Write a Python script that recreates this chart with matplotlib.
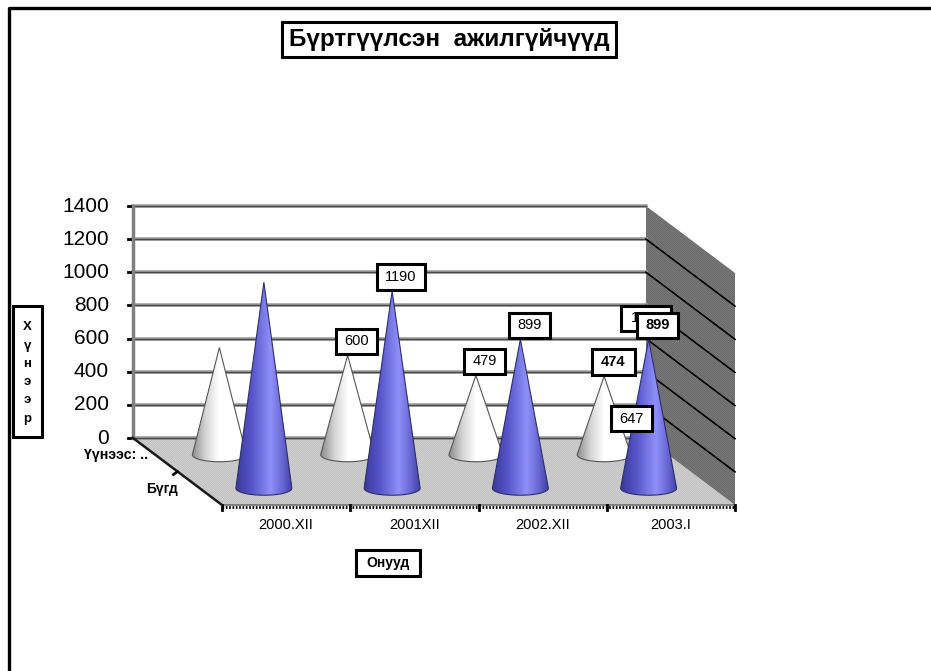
#!/usr/bin/env python3
"""Registered unemployed, 3D cone chart drawn on a flat pixel-sized axes."""

from __future__ import annotations

import matplotlib

matplotlib.use("Agg")
import matplotlib.pyplot as plt
import numpy as np
from matplotlib.colors import LinearSegmentedColormap
from matplotlib.patches import Polygon, Rectangle

plt.rcParams["font.family"] = ["Liberation Sans", "DejaVu Sans"]

YEARS = ["2000.XII", "2001XII", "2002.XII", "2003.I"]
SERIES = ["Үүнээс: ..", "Бүгд"]
FROM_THEM = [647, 600, 479, 474]
TOTAL = [1243, 1190, 899, 899]
VALUE_TICKS = [0, 200, 400, 600, 800, 1000, 1200, 1400]

TITLE = "Бүртгүүлсэн  ажилгүйчүүд"
Y_TITLE = "Х\nү\nн\nэ\nэ\nр"
X_TITLE = "Онууд"

# projection of the 3D box onto the picture, in pixels
BACK_LEFT = 133
BACK_RIGHT = 648
FRONT_LEFT = 222
FRONT_RIGHT = 735
BACK_Y = 438
FRONT_Y = 505
PX_PER_UNIT = 232 / 1400
MAX_VALUE = 1400

BLUE = LinearSegmentedColormap.from_list(
    "blue_cone",
    [(0.0, "#38389a"), (0.3, "#5858cc"), (0.62, "#9090fa"), (0.85, "#6464d0"), (1.0, "#4040a4")],
)
WHITE = LinearSegmentedColormap.from_list(
    "white_cone",
    [(0.0, "#8c8c8c"), (0.25, "#d4d4d4"), (0.5, "#ffffff"), (1.0, "#ffffff")],
)


def project(cat: float, depth: float, value: float = 0.0) -> tuple[float, float]:
    """cat is in category units, depth 0 is the front edge and 1 the back wall."""
    step = (FRONT_RIGHT - FRONT_LEFT) / len(YEARS)
    x = FRONT_LEFT + step * cat - (FRONT_LEFT - BACK_LEFT) * depth
    y = FRONT_Y - (FRONT_Y - BACK_Y) * depth - value * PX_PER_UNIT
    return x, y


def dither(ax, corners, light, dark):
    xs = [c[0] for c in corners]
    ys = [c[1] for c in corners]
    x0, x1, y0, y1 = int(min(xs)), int(max(xs)) + 1, int(min(ys)), int(max(ys)) + 1
    yy, xx = np.mgrid[0:(y1 - y0), 0:(x1 - x0)]
    cmap = LinearSegmentedColormap.from_list("dither", [light, dark])
    im = ax.imshow(
        (xx + yy) % 2,
        cmap=cmap,
        extent=(x0, x1, y1, y0),
        aspect="auto",
        interpolation="bilinear",
        zorder=1,
    )
    im.set_clip_path(Polygon(corners, transform=ax.transData))


def draw_cone(ax, cat, depth, value, cmap, edge, rx=28, ry=7, zorder=3):
    cx, cy = project(cat, depth)
    tip_x, tip_y = project(cat, depth, value)
    theta = np.linspace(0, np.pi, 40)
    outline = [(tip_x, tip_y)]
    outline += list(zip(cx + rx * np.cos(theta), cy + ry * np.sin(theta)))
    gradient = np.linspace(0, 1, 256).reshape(1, -1)
    im = ax.imshow(
        gradient,
        cmap=cmap,
        extent=(cx - rx, cx + rx, cy + ry, tip_y),
        aspect="auto",
        zorder=zorder,
    )
    im.set_clip_path(Polygon(outline, transform=ax.transData))
    ax.add_patch(Polygon(outline, closed=True, fill=False, edgecolor=edge, linewidth=0.8, zorder=zorder))


def boxed(ax, x, y, text, width, height, size, bold=False, zorder=6):
    ax.add_patch(
        Rectangle(
            (x - width / 2, y - height / 2),
            width,
            height,
            facecolor="white",
            edgecolor="black",
            linewidth=2.2,
            zorder=zorder,
        )
    )
    ax.text(
        x,
        y,
        text,
        ha="center",
        va="center",
        fontsize=size,
        fontweight="bold" if bold else "normal",
        color="black",
        zorder=zorder,
    )


def main() -> None:
    fig = plt.figure(figsize=(9.31, 6.71), dpi=100)
    ax = fig.add_axes([0, 0, 1, 1])

    # page frame
    ax.plot([9, 9, 931], [671, 8, 8], color="black", linewidth=2.4, zorder=1)

    # walls and floor
    dither(
        ax,
        [project(0, 1), project(len(YEARS), 1), project(len(YEARS), 0), project(0, 0)],
        "#c4c4c4",
        "#cccccc",
    )
    dither(
        ax,
        [
            project(len(YEARS), 1, MAX_VALUE),
            project(len(YEARS), 0, MAX_VALUE),
            project(len(YEARS), 0),
            project(len(YEARS), 1),
        ],
        "#6c6c6c",
        "#767676",
    )
    for value in VALUE_TICKS:
        left = project(0, 1, value)
        right = project(len(YEARS), 1, value)
        ax.plot([left[0], right[0]], [left[1], right[1]], color="#a0a0a0", linewidth=2.6, zorder=2)
        ax.plot([left[0], right[0]], [left[1], right[1]], color="#484848", linewidth=1.0, zorder=2)
        ax.plot([left[0] - 5, left[0]], [left[1], left[1]], color="black", linewidth=2, zorder=2)
        ax.text(left[0] - 24, left[1], str(value), ha="right", va="center", fontsize=15)
        if value > 0 and value < MAX_VALUE:
            front = project(len(YEARS), 0, value)
            ax.plot([right[0], front[0]], [right[1], front[1]], color="black", linewidth=1.2, zorder=2)
    top = project(0, 1, MAX_VALUE)
    ax.plot([top[0], top[0]], [top[1], BACK_Y], color="#808080", linewidth=2.5, zorder=2)

    # front and depth axes
    ax.plot([FRONT_LEFT, FRONT_RIGHT], [FRONT_Y, FRONT_Y], color="#707070", linewidth=1.2, zorder=2)
    ax.plot(
        [FRONT_LEFT, FRONT_RIGHT],
        [FRONT_Y + 2, FRONT_Y + 2],
        color="black",
        linewidth=2,
        linestyle=(0, (0.6, 0.6)),
        zorder=2,
    )
    for cat in range(len(YEARS) + 1):
        x, y = project(cat, 0)
        ax.plot([x, x], [y, y + 5], color="black", linewidth=2, zorder=2)
    depth_start = project(0, 1)
    depth_end = project(0, 0)
    ax.plot(
        [depth_start[0], depth_end[0]],
        [depth_start[1], depth_end[1]],
        color="#1a1a1a",
        linewidth=1.8,
        zorder=2,
    )
    mid = project(0, 0.5)
    ax.plot([mid[0] - 4, mid[0]], [mid[1] + 3, mid[1]], color="black", linewidth=2, zorder=2)

    # cones, back row first
    for cat, value in enumerate(FROM_THEM):
        draw_cone(ax, cat + 0.5, 0.75, value, WHITE, "#565656", rx=27, zorder=3)
    for cat, value in enumerate(TOTAL):
        draw_cone(ax, cat + 0.5, 0.25, value, BLUE, "#2e2e6a", zorder=4)

    # value labels sit up and to the right of the tips, the two hand moved ones differ
    label_shift = (9, -14)
    white_shift = [(412, 71), label_shift, label_shift, label_shift]
    blue_shift = [(382, 36), label_shift, label_shift, label_shift]
    for cat, value in enumerate(FROM_THEM):
        x, y = project(cat + 0.5, 0.75, value)
        bold = cat == 3
        width = 43 if bold else 41
        boxed(
            ax,
            x + white_shift[cat][0],
            y + white_shift[cat][1],
            str(value),
            width,
            25.5,
            10.5,
            bold=bold,
            zorder=8 if cat == 0 else 6,
        )
    for cat, value in enumerate(TOTAL):
        x, y = project(cat + 0.5, 0.25, value)
        bold = cat == 3
        width = 50 if cat == 0 else (48 if cat == 1 else 41)
        # the first label lies under the last one, only its leading digit shows
        text = str(value)[0] if cat == 0 else str(value)
        box_x = x + blue_shift[cat][0]
        box_y = y + blue_shift[cat][1]
        boxed(ax, box_x, box_y, "" if cat == 0 else text, width, 25.5, 10.5, bold=bold, zorder=5 if cat == 0 else 7)
        if cat == 0:
            ax.text(box_x - 15, box_y, text, ha="left", va="center", fontsize=10.5, zorder=5)

    # axis texts
    for cat, label in enumerate(YEARS):
        x, _ = project(cat + 0.5, 0)
        ax.text(x, 525, label, ha="center", va="center", fontsize=10.5)
    ax.text(148, 455, SERIES[0], ha="right", va="center", fontsize=10.2, fontweight="bold")
    ax.text(178, 489, SERIES[1], ha="right", va="center", fontsize=10, fontweight="bold")

    boxed(ax, 449, 39.5, TITLE, 334, 35, 17.5, bold=True)
    boxed(ax, 388, 563, X_TITLE, 64, 26, 10, bold=True)
    ax.add_patch(Rectangle((13, 306), 29, 131, facecolor="white", edgecolor="black", linewidth=2.2, zorder=6))
    ax.text(
        27.5,
        373,
        Y_TITLE,
        ha="center",
        va="center",
        fontsize=9.5,
        fontweight="bold",
        linespacing=1.7,
        zorder=6,
    )

    ax.set_xlim(0, 931)
    ax.set_ylim(671, 0)
    ax.axis("off")
    fig.savefig("out.png", dpi=100)
    plt.close(fig)


if __name__ == "__main__":
    main()
